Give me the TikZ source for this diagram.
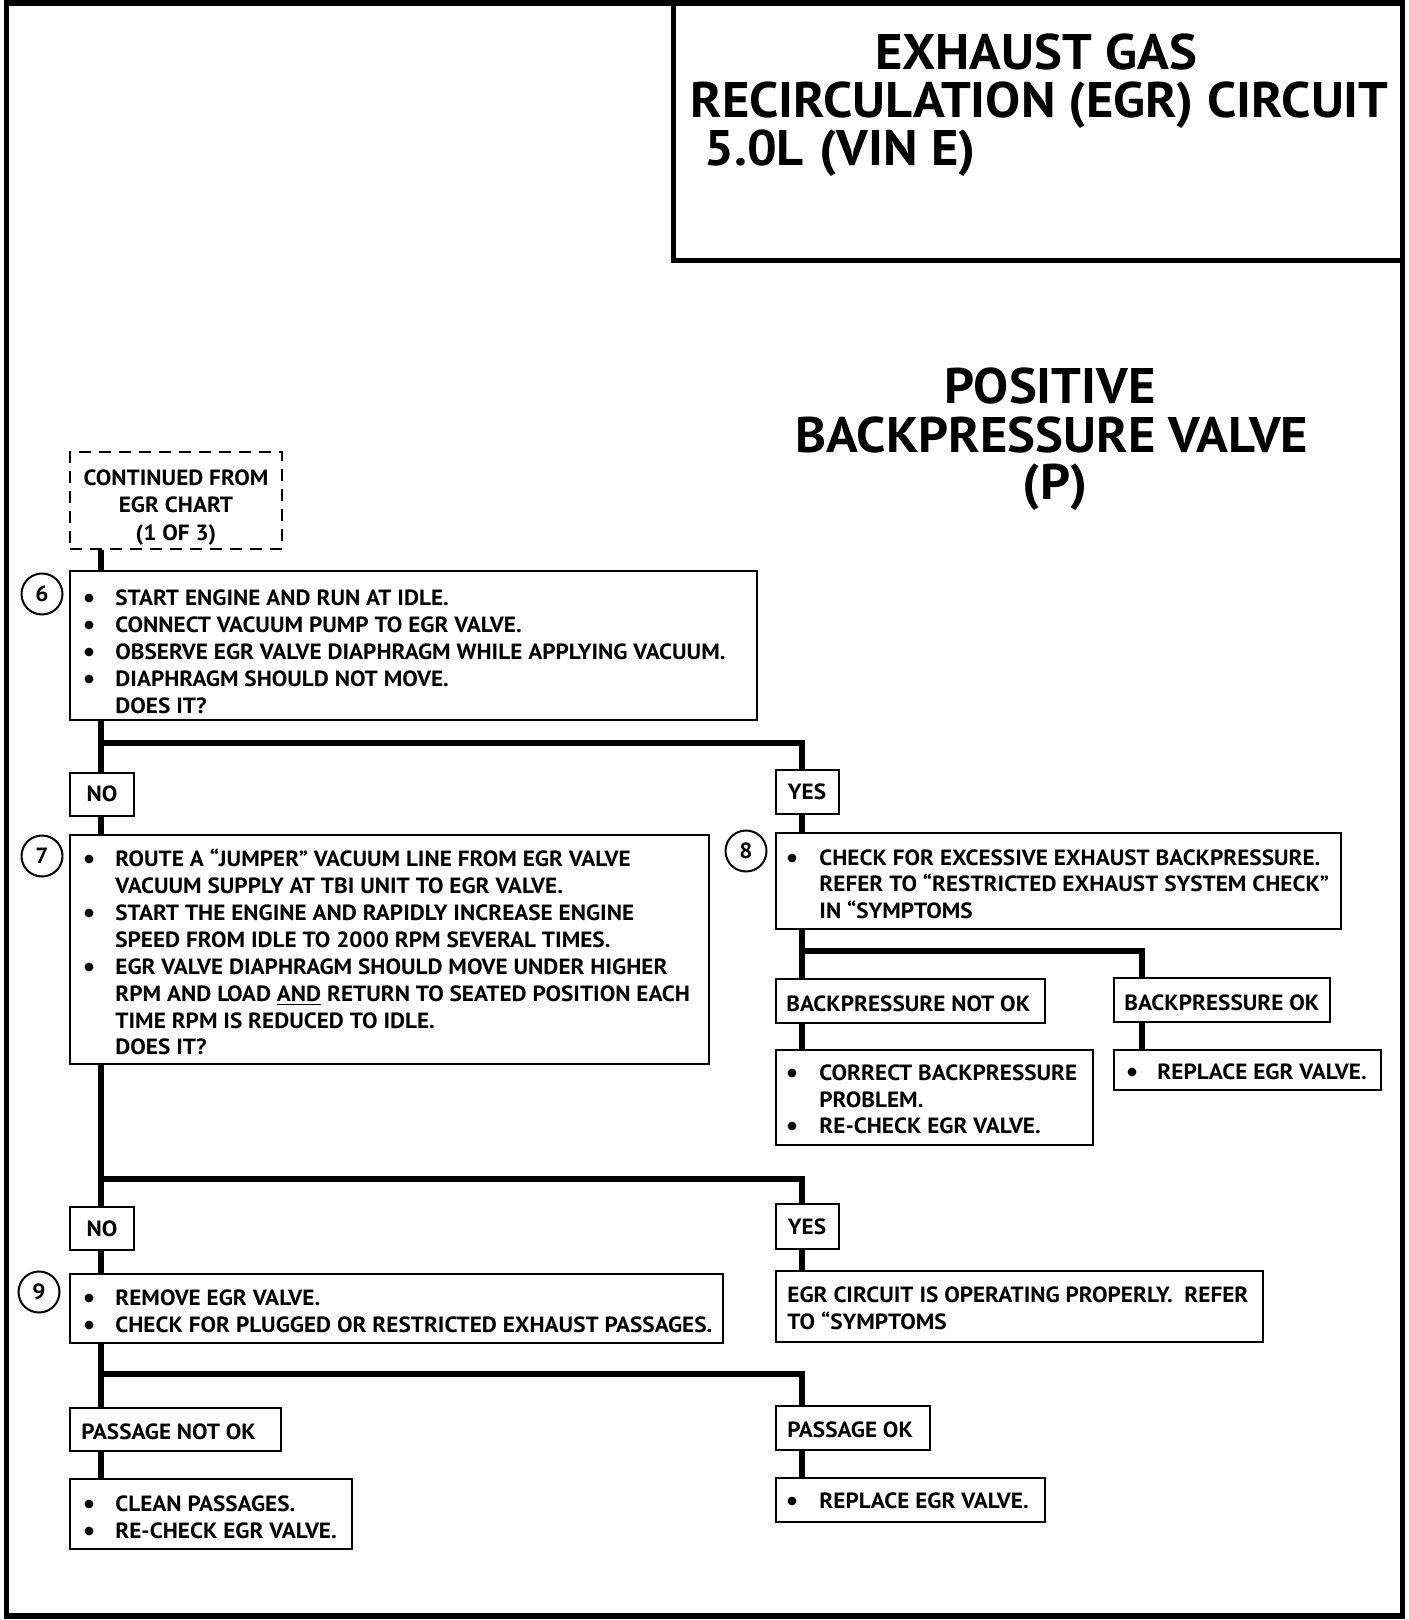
\documentclass[tikz,border=0pt]{standalone}
\usepackage{fontspec}
\setmainfont{PT Sans}
\newfontfamily\bodyfont{PT Sans}[FakeStretch=1.055]
\newfontfamily\headfont{PT Sans}[FakeStretch=1.05]
\usetikzlibrary{fit}
\begin{document}
\begin{tikzpicture}[x=0.5pt,y=-0.5pt,
  box/.style={draw,line width=1.3pt,inner sep=0pt},
  dbox/.style={draw,line width=1.2pt,inner sep=0pt,dash pattern=on 6pt off 4pt},
  conn/.style={line width=2.6pt},
  txt/.style={anchor=base west,inner sep=0pt,font=\bodyfont\bfseries\fontsize{11}{13}\selectfont},
  ctxt/.style={txt,anchor=base},
  bul/.style={circle,fill,inner sep=0pt,minimum size=4.4pt},
  num/.style={circle,draw,line width=1pt,minimum size=20.5pt,inner sep=0pt,font=\bodyfont\bfseries\fontsize{11}{13}\selectfont},
  big/.style={inner sep=0pt,anchor=base,font=\headfont\bfseries\fontsize{25}{30}\selectfont},
]
\useasboundingbox (0,0) rectangle (1408,1620);
\node[draw,line width=2.75pt,inner sep=0pt,fit={(6.5,3)(1402.5,1616)}] (frame) {};
\node[draw,line width=2.5pt,inner sep=0pt,fit={(673.5,3)(1402.5,261)}] (title) {};
\node[big] (t1) at (1036,69.5) {EXHAUST GAS};
\node[big,anchor=base west] (t2) at (690,117.5) {RECIRCULATION (EGR) CIRCUIT};
\node[big,anchor=base west] (t3) at (704,165.5) {5.0L\hspace{8pt}(VIN E)};
\node[big] (p1) at (1050,404) {POSITIVE};
\node[big] (p2) at (1052,452) {BACKPRESSURE VALVE};
\node[big] (p3) at (1055,499) {(P)};

% continued box
\node[dbox,fit={(70,452)(282,549)}] (cont) {};
\node[ctxt] (c1) at (176,485.5) {CONTINUED FROM};
\node[ctxt] (c2) at (176,512.5) {EGR CHART};
\node[ctxt] (c3) at (176,540.5) {(1 OF 3)};

% step 6
\node[num] (n6) at (42,594) {6};
\node[box,fit={(70,571)(757,720)}] (b6) {};
\node[bul] (b6b1) at (89,598) {};
\node[txt] (b6t1) at (115,605.5) {START ENGINE AND RUN AT IDLE.};
\node[bul] (b6b2) at (89,625) {};
\node[txt] (b6t2) at (115,632.5) {CONNECT VACUUM PUMP TO EGR VALVE.};
\node[bul] (b6b3) at (89,652) {};
\node[txt] (b6t3) at (115,659.5) {OBSERVE EGR VALVE DIAPHRAGM WHILE APPLYING VACUUM.};
\node[bul] (b6b4) at (89,679) {};
\node[txt] (b6t4) at (115,686.5) {DIAPHRAGM SHOULD NOT MOVE.};
\node[txt] (b6t5) at (115,713.5) {DOES IT?};

\node[box,fit={(70,773)(134,816)}] (no1) {};
\node[ctxt] (no1t) at (102,801.5) {NO};
\node[box,fit={(776,770)(839,814)}] (yes1) {};
\node[ctxt] (yes1t) at (807,799.5) {YES};

% step 7
\node[num] (n7) at (42,856) {7};
\node[box,fit={(70,835)(709,1064)}] (b7) {};
\node[bul] (b7b1) at (89,859) {};
\node[txt] (b7t1) at (115,866.5) {ROUTE A “JUMPER” VACUUM LINE FROM EGR VALVE};
\node[txt] (b7t2) at (115,893.5) {VACUUM SUPPLY AT TBI UNIT TO EGR VALVE.};
\node[bul] (b7b3) at (89,913) {};
\node[txt] (b7t3) at (115,920.5) {START THE ENGINE AND RAPIDLY INCREASE ENGINE};
\node[txt] (b7t4) at (115,947.5) {SPEED FROM IDLE TO 2000 RPM SEVERAL TIMES.};
\node[bul] (b7b5) at (89,967) {};
\node[txt] (b7t5) at (115,974.5) {EGR VALVE DIAPHRAGM SHOULD MOVE UNDER HIGHER};
\node[txt] (b7t6) at (115,1001.5) {RPM AND LOAD \underline{AND} RETURN TO SEATED POSITION EACH};
\node[txt] (b7t7) at (115,1028.5) {TIME RPM IS REDUCED TO IDLE.};
\node[txt] (b7t8) at (115,1054.5) {DOES IT?};

% step 8
\node[num] (n8) at (746,851) {8};
\node[box,fit={(776,833)(1341,929)}] (b8) {};
\node[bul] (b8b1) at (792,858) {};
\node[txt] (b8t1) at (819,865.5) {CHECK FOR EXCESSIVE EXHAUST BACKPRESSURE.};
\node[txt] (b8t2) at (819,891.5) {REFER TO “RESTRICTED EXHAUST SYSTEM CHECK”};
\node[txt] (b8t3) at (819,918.5) {IN “SYMPTOMS};

\node[box,fit={(776,979)(1045,1023)}] (bpn) {};
\node[txt] (bpnt) at (786,1011.5) {BACKPRESSURE NOT OK};
\node[box,fit={(1114,978)(1330,1022)}] (bpo) {};
\node[txt] (bpot) at (1124,1010.5) {BACKPRESSURE OK};

\node[box,fit={(776,1050)(1093,1145)}] (cor) {};
\node[bul] (corb1) at (792,1073) {};
\node[txt] (cort1) at (819,1080.5) {CORRECT BACKPRESSURE};
\node[txt] (cort2) at (819,1107.5) {PROBLEM.};
\node[bul] (corb3) at (792,1126) {};
\node[txt] (cort3) at (819,1133.5) {RE-CHECK EGR VALVE.};

\node[box,fit={(1114,1050)(1381,1090)}] (rep1) {};
\node[bul] (rep1b) at (1132,1072) {};
\node[txt] (rep1t) at (1157,1079.5) {REPLACE EGR VALVE.};

\node[box,fit={(70,1207)(134,1250)}] (no2) {};
\node[ctxt] (no2t) at (102,1236.5) {NO};
\node[box,fit={(776,1204)(839,1249)}] (yes2) {};
\node[ctxt] (yes2t) at (807,1234.5) {YES};

\node[box,fit={(776,1271)(1263,1342)}] (egr) {};
\node[txt] (egrt1) at (787,1302.5) {EGR CIRCUIT IS OPERATING PROPERLY.\ \ REFER};
\node[txt] (egrt2) at (787,1329.5) {TO “SYMPTOMS};

% step 9
\node[num] (n9) at (39,1292) {9};
\node[box,fit={(70,1274)(723,1343)}] (b9) {};
\node[bul] (b9b1) at (89,1298) {};
\node[txt] (b9t1) at (115,1305.5) {REMOVE EGR VALVE.};
\node[bul] (b9b2) at (89,1325) {};
\node[txt] (b9t2) at (115,1332.5) {CHECK FOR PLUGGED OR RESTRICTED EXHAUST PASSAGES.};

\node[box,fit={(70,1408)(281,1451)}] (pnot) {};
\node[txt] (pnott) at (81,1439.5) {PASSAGE NOT OK};
\node[box,fit={(776,1406)(930,1450)}] (pok) {};
\node[txt] (pokt) at (787,1437.5) {PASSAGE OK};

\node[box,fit={(70,1479)(352,1549)}] (clean) {};
\node[bul] (cleanb1) at (89,1504) {};
\node[txt] (cleant1) at (115,1511.5) {CLEAN PASSAGES.};
\node[bul] (cleanb2) at (89,1531) {};
\node[txt] (cleant2) at (115,1538.5) {RE-CHECK EGR VALVE.};

\node[box,fit={(776,1478)(1045,1522)}] (rep2) {};
\node[bul] (rep2b) at (792,1501) {};
\node[txt] (rep2t) at (819,1508.5) {REPLACE EGR VALVE.};

% connectors
\coordinate (tx) at (101,0);
\coordinate (rx) at (802,0);
\coordinate (rx2) at (1142,0);
\coordinate (j1) at (101,743);
\coordinate (j2) at (802,951);
\coordinate (j3) at (101,1179);
\coordinate (j4) at (101,1374);
\draw[conn] (cont.south -| tx) -- (b6.north -| tx);
\draw[conn] (b6.south -| tx) -- (no1.north -| tx);
\draw[conn] (j1) -| (yes1.north -| rx);
\draw[conn] (no1.south -| tx) -- (b7.north -| tx);
\draw[conn] (yes1.south -| rx) -- (b8.north -| rx);
\draw[conn] (b8.south -| rx) -- (bpn.north -| rx);
\draw[conn] (j2) -| (bpo.north -| rx2);
\draw[conn] (bpn.south -| rx) -- (cor.north -| rx);
\draw[conn] (bpo.south -| rx2) -- (rep1.north -| rx2);
\draw[conn] (b7.south -| tx) -- (no2.north -| tx);
\draw[conn] (j3) -| (yes2.north -| rx);
\draw[conn] (no2.south -| tx) -- (b9.north -| tx);
\draw[conn] (yes2.south -| rx) -- (egr.north -| rx);
\draw[conn] (b9.south -| tx) -- (pnot.north -| tx);
\draw[conn] (j4) -| (pok.north -| rx);
\draw[conn] (pnot.south -| tx) -- (clean.north -| tx);
\draw[conn] (pok.south -| rx) -- (rep2.north -| rx);
\end{tikzpicture}
\end{document}
